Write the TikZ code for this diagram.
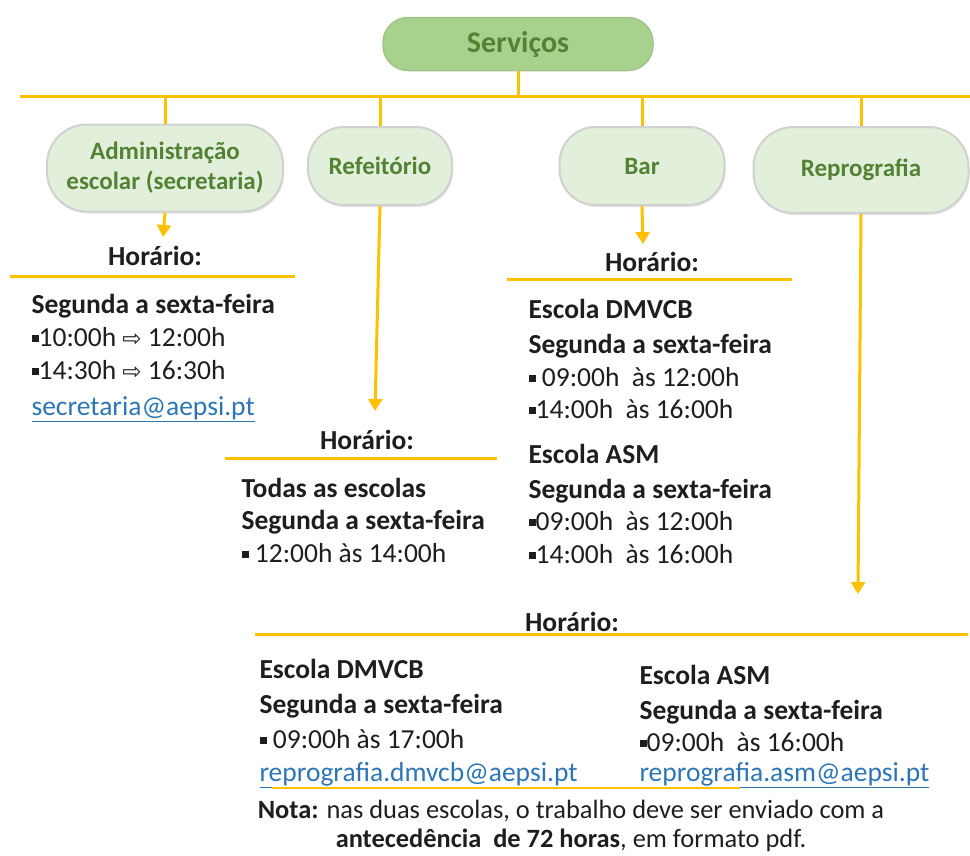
\documentclass[tikz,border=0pt]{standalone}
\usepackage{fontspec}
\setmainfont{Carlito}
\newfontfamily\symfont{DejaVu Sans}
\usetikzlibrary{arrows.meta,positioning,shadows}
\definecolor{amarelo}{HTML}{FFC000}
\definecolor{verdeescuro}{HTML}{548235}
\definecolor{verdemedio}{HTML}{A9D18E}
\definecolor{verdeclaro}{HTML}{E2EFDA}
\definecolor{azullink}{HTML}{2E75B6}
\definecolor{texto}{HTML}{1E1E1E}
\newcommand{\sq}{\raisebox{0.15em}{\rule{0.26em}{0.26em}}}
\newcommand{\seta}{{\symfont\fontsize{23}{24}\selectfont ⇨}}
\newcommand{\link}[1]{\textcolor{azullink}{\underline{#1}}}
\begin{document}
\begin{tikzpicture}[x=1pt, y=-1pt, line width=3pt,
  conn/.style={draw=amarelo},
  seta conn/.style={draw=amarelo, -{Triangle[width=14pt,length=12pt]}},
  serv node/.style={rectangle, rounded corners=25pt, fill=verdemedio, draw=verdemedio!85!gray, line width=1.5pt, text=verdeescuro, font=\fontsize{30}{34}\selectfont\bfseries, minimum width=270pt, minimum height=53pt},
  top node/.style={rectangle, fill=verdeclaro, draw=black!18, line width=2pt, text=verdeescuro, align=center, font=\fontsize{25}{30}\selectfont\bfseries, drop shadow={opacity=0.2, shadow xshift=1pt, shadow yshift=-2pt}},
  head node/.style={text=texto, font=\fontsize{27.5}{33}\selectfont\bfseries, inner sep=0pt},
  txt/.style={anchor=west, inner sep=0pt, yshift=-6pt, text=texto, text height=0.7em, text depth=0.2em, font=\fontsize{27.5}{33}\selectfont},
  txtb/.style={txt, font=\fontsize{27.5}{33}\selectfont\bfseries}]
\useasboundingbox (0,0) rectangle (970,855);
% caixas
\node[serv node] (serv) at (518,44) {Serviços};
\node[top node, minimum width=236pt, minimum height=87pt, rounded corners=40pt] (adm) at (165,168) {Administração\\escolar (secretaria)};
\node[top node, minimum width=144pt, minimum height=78pt, rounded corners=36pt] (ref) at (380,166) {Refeitório};
\node[top node, minimum width=165pt, minimum height=78pt, rounded corners=36pt] (bar) at (642,166) {Bar};
\node[top node, minimum width=215pt, minimum height=86pt, rounded corners=40pt] (rep) at (861,170) {Reprografia};
% linha horizontal
\coordinate (hl) at (20,96);
\coordinate (hr) at (970,96);
\draw[conn] (hl) -- (hr);
\draw[conn] (serv.south) -- (serv.south |- hl);
\draw[conn] (adm.north |- hl) -- (adm.north);
\draw[conn] (ref.north |- hl) -- (ref.north);
\draw[conn] (bar.north |- hl) -- (bar.north);
\draw[conn] (rep.north |- hl) -- (rep.north);
% setas
\coordinate (adm end) at (163,237);
\coordinate (ref end) at (375,411);
\coordinate (bar end) at (643,244);
\coordinate (rep end) at (858,594);
\draw[seta conn] (adm.south) -- (adm end);
\draw[seta conn] (ref.south) -- (ref end);
\draw[seta conn] (bar.south) -- (bar end);
\draw[seta conn] (rep.south) -- (rep end);
% horarios
\node[head node] (h adm) at (155,256) {Horário:};
\node[head node] (h ref) at (367,440) {Horário:};
\node[head node] (h bar) at (652,262) {Horário:};
\node[head node] (h rep) at (572,622) {Horário:};
\coordinate (la1) at (10,276);  \coordinate (la2) at (295,276);
\coordinate (lr1) at (225,458); \coordinate (lr2) at (497,458);
\coordinate (lb1) at (507,279); \coordinate (lb2) at (792,279);
\coordinate (lp1) at (255,634); \coordinate (lp2) at (968,634);
\draw[conn] (la1) -- (la2);
\draw[conn] (lr1) -- (lr2);
\draw[conn] (lb1) -- (lb2);
\draw[conn] (lp1) -- (lp2);
% administracao
\node[txtb] (a1) at (30,305) {Segunda a sexta-feira};
\node[txt] (a2) at (30,338) {\sq10:00h \seta{} 12:00h};
\node[txt] (a3) at (30,371) {\sq14:30h \seta{} 16:30h};
\node[txt] (a4) at (30,407) {\link{secretaria@aepsi.pt}};
% refeitorio
\node[txtb] (r1) at (240,489) {Todas as escolas};
\node[txtb] (r2) at (240,521) {Segunda a sexta-feira};
\node[txt] (r3) at (240,554) {\sq\ 12:00h às 14:00h};
% bar
\node[txtb] (b1) at (527,310) {Escola DMVCB};
\node[txtb] (b2) at (527,345) {Segunda a sexta-feira};
\node[txt] (b3) at (527,378) {\sq\ 09:00h \ às 12:00h};
\node[txt] (b4) at (527,410) {\sq14:00h \ às 16:00h};
\node[txtb] (b5) at (527,455) {Escola ASM};
\node[txtb] (b6) at (527,490) {Segunda a sexta-feira};
\node[txt] (b7) at (527,522) {\sq09:00h \ às 12:00h};
\node[txt] (b8) at (527,555) {\sq14:00h \ às 16:00h};
% reprografia
\node[txtb] (p1) at (258,670) {Escola DMVCB};
\node[txtb] (p2) at (258,705) {Segunda a sexta-feira};
\node[txt] (p3) at (258,740) {\sq\ 09:00h às 17:00h};
\node[txt] (p4) at (258,773) {\link{reprografia.dmvcb@aepsi.pt}};
\node[txtb] (q1) at (638,676) {Escola ASM};
\node[txtb] (q2) at (638,711) {Segunda a sexta-feira};
\node[txt] (q3) at (638,743) {\sq09:00h \ às 16:00h};
\node[txt] (q4) at (638,773) {\link{reprografia.asm@aepsi.pt}};
\coordinate (n1) at (272,788);
\coordinate (n2) at (740,788);
\draw[conn, line width=1.2pt] (n1) -- (n2);
\node[text=texto, align=center, inner sep=0pt, font=\fontsize{26.4}{29}\selectfont] (nota) at (571,826) {\textbf{Nota:} nas duas escolas, o trabalho deve ser enviado com a\\\textbf{antecedência \ de 72 horas}, em formato pdf.};
\end{tikzpicture}
\end{document}
